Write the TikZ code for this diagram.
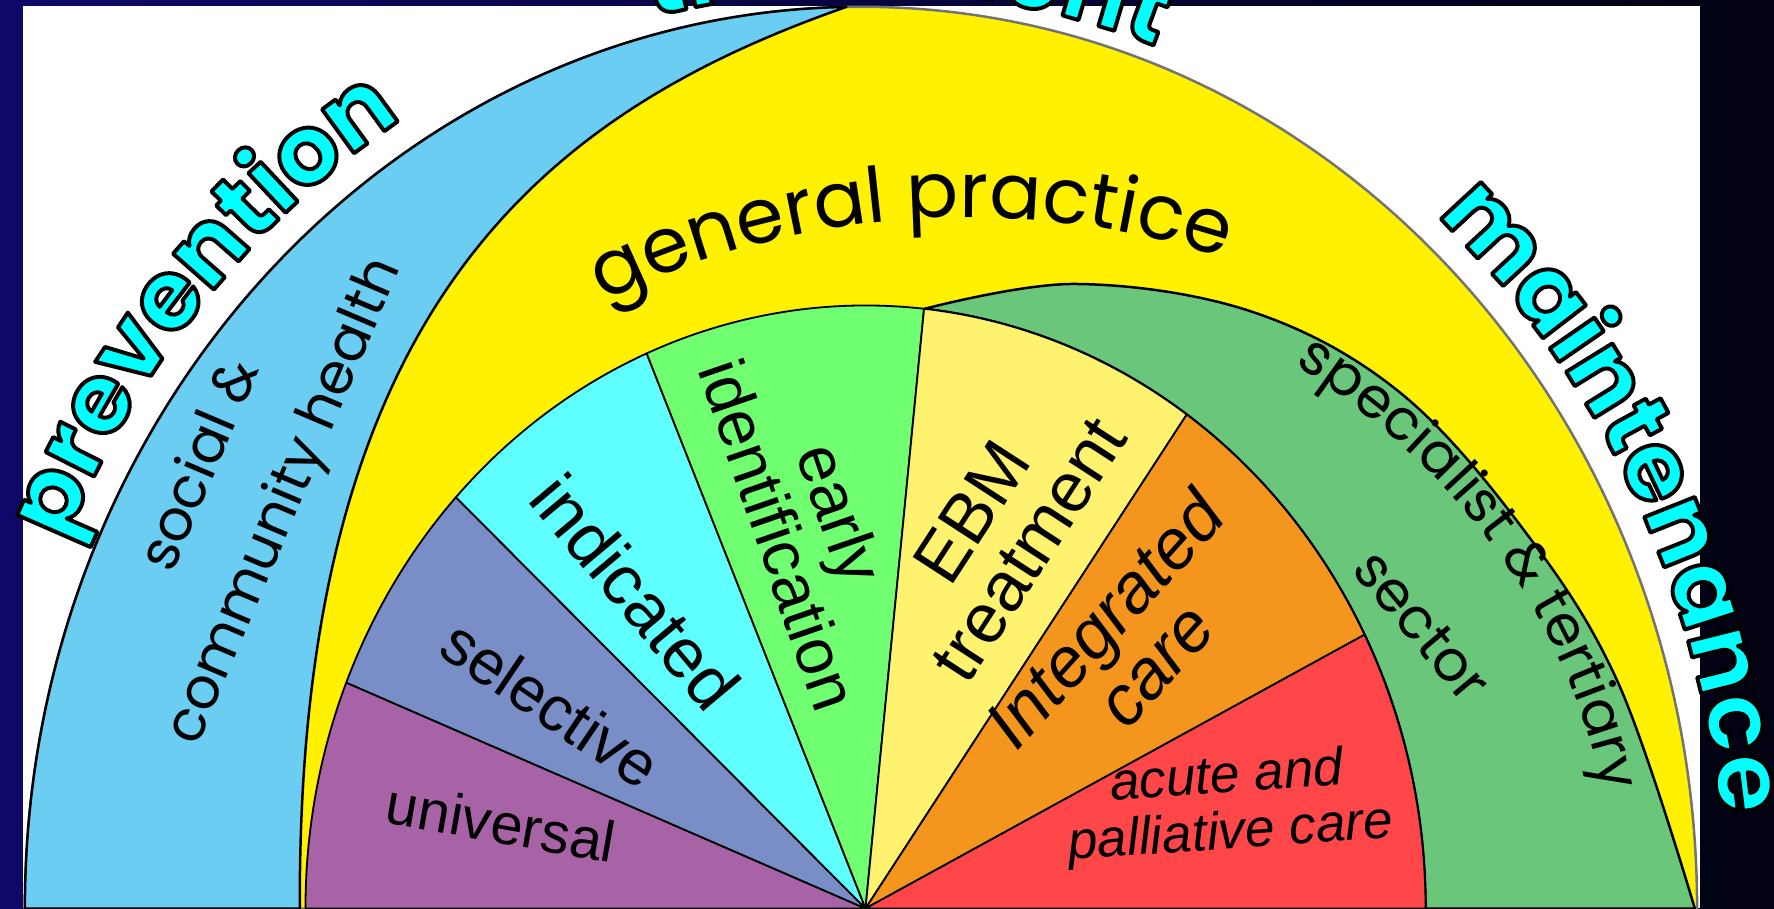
\documentclass[tikz,border=0pt]{standalone}
\usepackage{fontspec}
\usetikzlibrary{decorations.text}
\setmainfont{Liberation Sans}
\newfontfamily\comicfont{Poppins}
\definecolor{navyleft}{RGB}{14,8,104}
\definecolor{navyright}{RGB}{2,2,18}
\definecolor{skyband}{RGB}{108,205,243}
\definecolor{gpyellow}{RGB}{255,241,0}
\definecolor{spgreen}{RGB}{106,198,122}
\definecolor{univpurple}{RGB}{168,99,167}
\definecolor{selblue}{RGB}{121,142,199}
\definecolor{indcyan}{RGB}{96,255,255}
\definecolor{earlygreen}{RGB}{112,255,112}
\definecolor{ebmyellow}{RGB}{255,242,110}
\definecolor{intorange}{RGB}{244,150,30}
\definecolor{acutered}{RGB}{255,71,74}
\definecolor{stagecyan}{RGB}{0,255,255}
\newcommand{\outl}[1]{\special{pdf:literal direct 2 Tr 0 0 0 RG 3.5 w}#1\special{pdf:literal direct 0 Tr}}
\newcommand{\stagefont}{\comicfont\bfseries\fontsize{86}{90}\selectfont}
\newcommand{\comicsize}[2]{\comicfont\fontsize{#1}{#2}\selectfont}

\begin{document}
\begin{tikzpicture}[x=1pt, y=1pt, line join=round,
  band/.style={draw=black, line width=2.2pt},
  slice/.style={draw=black, line width=1.6pt},
  slicetext/.style 2 args={font=\fontsize{#1}{#2}\selectfont, align=center, inner sep=0pt},
  slicetextit/.style 2 args={font=\fontsize{#1}{#2}\selectfont\itshape, align=center, inner sep=0pt},
  bandtext/.style 2 args={font=\comicsize{#1}{#2}, align=center, inner sep=0pt},
  stage/.style={decorate, decoration={text effects along path, text={#1}, text align=center,
    text effects/.cd, text along path, characters={text=stagecyan, font=\stagefont, inner sep=0pt},
    character command=\outl}}]
\useasboundingbox (0,0) rectangle (1568,803);
\shade[left color=navyleft, right color=navyright] (0,0) rectangle (1568,803);
\fill[white] (20,0) rectangle (1503,798);

\draw[band, draw=black!55, fill=gpyellow] (22,0) arc[start angle=180, end angle=0, x radius=739pt, y radius=797pt] -- cycle;
\draw[band, fill=skyband] (22,0) arc[start angle=180, end angle=91, x radius=739pt, y radius=797pt]
  .. controls (470,700) and (263,520) .. (265,0) -- cycle;
\draw[band, fill=spgreen] plot[smooth, tension=0.6] coordinates {(817,530) (950,552) (1105,528) (1235,458) (1345,337) (1430,200) (1498,0)}
  -- (1260,0) arc[start angle=0, end angle=84, x radius=495pt, y radius=533pt] -- cycle;

\foreach \a/\b/\col in {158/180/univpurple, 137/158/selblue, 113/137/indcyan, 84/113/earlygreen, 55/84/ebmyellow, 27/55/intorange, 0/27/acutered}
  \draw[slice, fill=\col] (765,0) -- ({765+495*cos(\a)},{533*sin(\a)}) arc[start angle=\a, end angle=\b, x radius=495pt, y radius=533pt] -- cycle;

\node[slicetext={51}{55}, rotate=-10] (universal) at (443,76) {universal};
\node[slicetext={56}{60}, rotate=-34] (selective) at (487,181) {selective};
\node[slicetext={62}{66}, rotate=-50] (indicated) at (562,280) {indicated};
\node[slicetext={58}{58}, rotate=-71] (early) at (716,340) {early\\identification};
\node[slicetext={62}{60}, rotate=57] (ebm) at (884,334) {EBM\\treatment};
\node[slicetextit={62}{60}, rotate=48] (integrated) at (998,236) {Integrated\\care};
\node[slicetextit={47}{50}, rotate=4] (acute) at (1086,90) {acute and\\palliative care};

\node[bandtext={50}{80}, rotate=67] (social) at (216,375) {social \&\\community health};
\node[bandtext={50}{50}, rotate=-50] (sector) at (1257,250) {sector};
\path[decorate, decoration={text along path, text={|\comicsize{68}{72}|general practice}, text align=center}]
  ({855+729*cos(115)},{-118+729*sin(115)}) arc[start angle=115, end angle=73, radius=729pt];
\path[decorate, decoration={text along path, text={|\comicsize{50}{54}|specialist {\&} tertiary}, text align=center}]
  ({765+662*cos(57)},{586*sin(57)}) arc[start angle=57, end angle=8, x radius=662pt, y radius=586pt];

\path[stage=prevention] ({761+765*cos(172)},{823*sin(172)}) arc[start angle=172, end angle=106, x radius=765pt, y radius=823pt];
\path[stage=maintenance] ({761+763*cos(50)},{821*sin(50)}) arc[start angle=50, end angle=4, x radius=763pt, y radius=821pt];
\begin{scope}
\clip (0,0) rectangle (1568,803);
\path[stage=treatment] ({761+754*cos(110)},{812*sin(110)}) arc[start angle=110, end angle=64, x radius=754pt, y radius=812pt];
\end{scope}
\end{tikzpicture}
\end{document}
